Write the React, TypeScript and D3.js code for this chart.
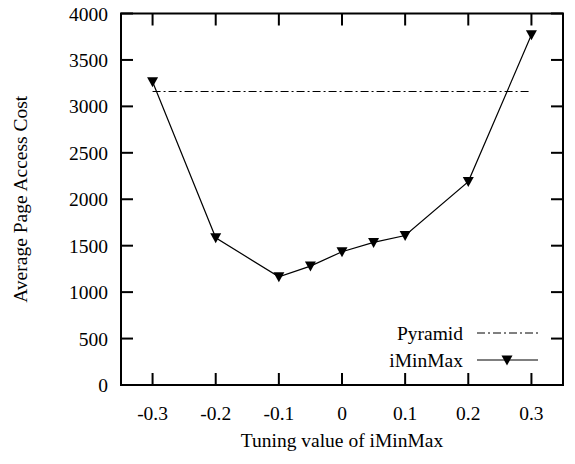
import React from "react";
import * as d3 from "d3";

const xValues = [-0.3, -0.2, -0.1, -0.05, 0, 0.05, 0.1, 0.2, 0.3];
const iMinMaxValues = [3265, 1585, 1165, 1280, 1435, 1535, 1610, 2190, 3770];
const pyramidValue = 3160;
const pyramidRange = [-0.3, 0.3];
const xTicks = [-0.3, -0.2, -0.1, 0, 0.1, 0.2, 0.3];
const yTicks = [0, 500, 1000, 1500, 2000, 2500, 3000, 3500, 4000];

const W = 575;
const H = 464;
const left = 121;
const right = 563;
const top = 13.5;
const bottom = 385;
const FONT = "'Liberation Serif', 'Times New Roman', serif";

export default function App() {
  const x = d3.scaleLinear().domain([-0.35, 0.35]).range([left, right]);
  const y = d3.scaleLinear().domain([0, 4000]).range([bottom, top]);
  const line = d3
    .line<number>()
    .x((_, i) => x(xValues[i]))
    .y((d) => y(d));
  const tri = (cx: number, cy: number) =>
    `M${cx - 5.5},${cy - 4.5}L${cx + 5.5},${cy - 4.5}L${cx},${cy + 5.5}Z`;
  const tl = 12;
  const fmtX = (v: number) => (v === 0 ? "0" : String(v));
  return (
    <svg
      width={W}
      height={H}
      style={{ position: "absolute", left: 0, top: 0, background: "#fff" }}
      fontFamily={FONT}
    >
      {/* ticks */}
      {yTicks.map((t) => (
        <g key={"y" + t}>
          <line x1={left} x2={left + tl} y1={y(t)} y2={y(t)} stroke="#000" strokeWidth={2} />
          <line x1={right} x2={right - tl} y1={y(t)} y2={y(t)} stroke="#000" strokeWidth={2} />
          <text x={108} y={y(t)} dy={7} fontSize={19.5} textAnchor="end">
            {t}
          </text>
        </g>
      ))}
      {xTicks.map((t) => (
        <g key={"x" + t}>
          <line x1={x(t)} x2={x(t)} y1={bottom} y2={bottom - tl} stroke="#000" strokeWidth={2} />
          <line x1={x(t)} x2={x(t)} y1={top} y2={top + tl} stroke="#000" strokeWidth={2} />
          <text x={x(t)} y={420} fontSize={19.5} textAnchor="middle">
            {fmtX(t)}
          </text>
        </g>
      ))}
      {/* pyramid */}
      <line
        x1={x(pyramidRange[0])}
        x2={x(pyramidRange[1])}
        y1={y(pyramidValue)}
        y2={y(pyramidValue)}
        stroke="#000"
        strokeWidth={1}
        strokeDasharray="8,3,2,3"
      />
      {/* iMinMax */}
      <path d={line(iMinMaxValues) || ""} fill="none" stroke="#000" strokeWidth={1.2} />
      {iMinMaxValues.map((v, i) => (
        <path key={i} d={tri(x(xValues[i]), y(v))} fill="#000" />
      ))}
      {/* frame */}
      <rect x={left} y={top} width={right - left} height={bottom - top} fill="none" stroke="#000" strokeWidth={2} />
      {/* legend */}
      <text x={463} y={340} fontSize={19.5} textAnchor="end">Pyramid</text>
      <line x1={477} x2={538} y1={333} y2={333} stroke="#000" strokeWidth={1} strokeDasharray="8,3,2,3" />
      <text x={463} y={367} fontSize={19.5} textAnchor="end">iMinMax</text>
      <line x1={477} x2={538} y1={360} y2={360} stroke="#000" strokeWidth={1.2} />
      <path d={tri(507, 360)} fill="#000" />
      {/* axis labels */}
      <text x={(left + right) / 2} y={447} fontSize={19.5} textAnchor="middle">
        Tuning value of iMinMax
      </text>
      <text
        transform={`translate(27,${(top + bottom) / 2}) rotate(-90)`}
        fontSize={19.5}
        textAnchor="middle"
      >
        Average Page Access Cost
      </text>
    </svg>
  );
}
